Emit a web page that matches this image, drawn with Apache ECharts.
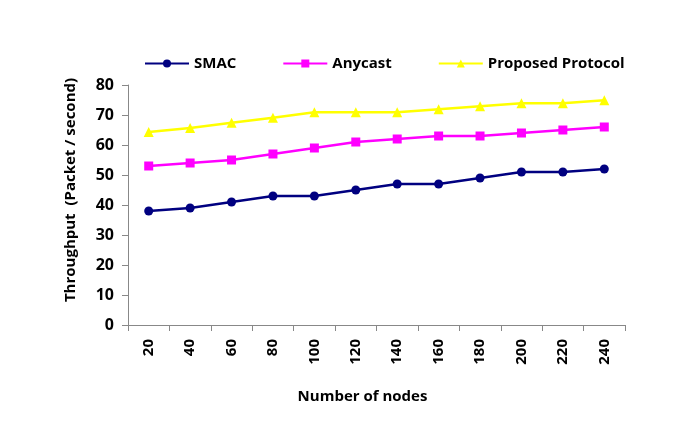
<!DOCTYPE html>
<html>
<head>
<meta charset="utf-8">
<script src="https://cdn.jsdelivr.net/npm/echarts@6/dist/echarts.min.js"></script>
<style>html,body{margin:0;padding:0;background:#fff}#c{width:685px;height:448px}</style>
</head>
<body>
<div id="c"></div>
<script>
const categories = ['20','40','60','80','100','120','140','160','180','200','220','240'];
const smac = [38,39,41,43,43,45,47,47,49,51,51,52];
const anycast = [53,54,55,57,59,61,62,63,63,64,65,66];
const proposed = [64.3,65.7,67.4,69.1,70.9,70.9,70.9,71.9,72.9,73.9,73.9,74.9];
const yTicks = {min:0, max:80, interval:10};

const FONT = 'Open Sans';
const chart = echarts.init(document.getElementById('c'));
function s(name, data, color, symbol, size){
  return {name, type:'line', data, symbol, symbolSize:size, showSymbol:true,
    lineStyle:{color, width:2.5}, itemStyle:{color}, emphasis:{disabled:true}};
}
chart.setOption({
  animation:false,
  backgroundColor:'#fff',
  legend:{left:139, top:51, itemWidth:44, itemHeight:10, itemGap:46,
    textStyle:{fontFamily:FONT, fontWeight:'bold', fontSize:15, color:'#000'},
    data:['SMAC','Anycast','Proposed Protocol']},
  grid:{left:128, right:60, top:85, bottom:123, containLabel:false},
  xAxis:{type:'category', data:categories, boundaryGap:true,
    name:'Number of nodes', nameLocation:'middle', nameGap:64,
    nameTextStyle:{fontFamily:FONT, fontWeight:'bold', fontSize:15, color:'#000', padding:[0,28,0,0]},
    axisLine:{lineStyle:{color:'#888'}},
    axisTick:{show:true, alignWithLabel:false, length:6, lineStyle:{color:'#888'}},
    axisLabel:{rotate:90, margin:14, fontFamily:FONT, fontWeight:'bold', fontSize:15, color:'#000', interval:0},
    splitLine:{show:false}},
  yAxis:{type:'value', min:yTicks.min, max:yTicks.max, interval:yTicks.interval,
    name:'Throughput  (Packet / second)', nameLocation:'middle', nameGap:50,
    nameTextStyle:{fontFamily:FONT, fontWeight:'bold', fontSize:15, color:'#000', padding:[0,0,0,30]},
    axisLine:{show:true, lineStyle:{color:'#888'}},
    axisTick:{show:true, length:6, lineStyle:{color:'#888'}},
    axisLabel:{margin:14, fontFamily:FONT, fontWeight:'bold', fontSize:16, color:'#000'},
    splitLine:{show:false}},
  series:[
    s('SMAC', smac, '#000080', 'circle', 9),
    s('Anycast', anycast, '#FF00FF', 'rect', 9),
    s('Proposed Protocol', proposed, '#FFFF00', 'triangle', 10)
  ]
});
</script>
</body>
</html>
